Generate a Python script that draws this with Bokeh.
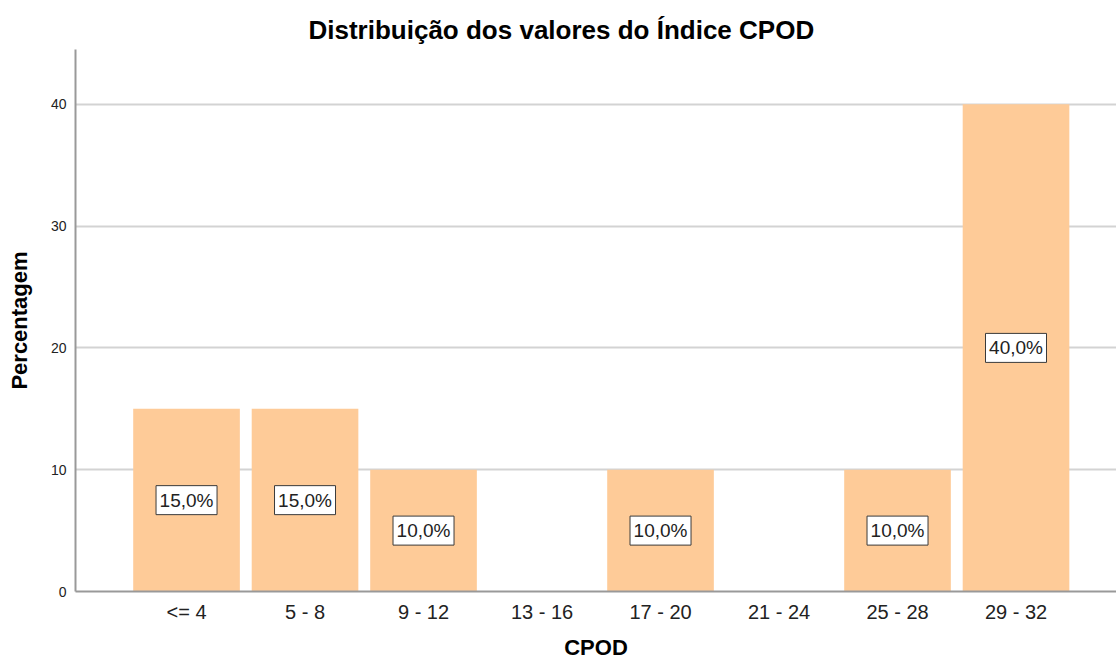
from bokeh.plotting import figure
from bokeh.models import Range1d, FixedTicker, ColumnDataSource
from bokeh.core.properties import value
from bokeh.embed import file_html
from bokeh.resources import INLINE

# ---- data ----
categories = ["<= 4", "5 - 8", "9 - 12", "13 - 16", "17 - 20", "21 - 24", "25 - 28", "29 - 32"]
percentages = [15.0, 15.0, 10.0, 0.0, 10.0, 0.0, 10.0, 40.0]
y_ticks = [0, 10, 20, 30, 40]

title_text = "Distribuição dos valores do Índice CPOD"
x_label = "CPOD"
y_label = "Percentagem"

FONT = "Liberation Sans"
BAR_COLOR = "#FECB98"

xs = list(range(len(categories)))
bar_src = ColumnDataSource(dict(x=xs, top=percentages))

lab_x = [i for i, v in enumerate(percentages) if v > 0]
lab_y = [v / 2 for v in percentages if v > 0]
lab_t = [f"{v:.1f}%".replace(".", ",") for v in percentages if v > 0]
lab_src = ColumnDataSource(dict(x=lab_x, y=lab_y, label=lab_t))

p = figure(width=1116, height=662, output_backend="svg", toolbar_location=None,
           x_range=Range1d(-0.937, 7.848), y_range=Range1d(0, 44.5),
           min_border_left=75, min_border_right=0, min_border_top=49, min_border_bottom=71)

p.outline_line_color = None
p.background_fill_color = "white"
p.border_fill_color = "white"

# title
p.title.text = title_text
p.title.align = "left"
p.title.offset = 233
p.title.text_font = FONT
p.title.text_font_size = "26px"
p.title.text_font_style = "bold"
p.title.text_color = "#000000"
p.title.standoff = 10

# bars
p.vbar(x="x", top="top", bottom=0, width=0.9, source=bar_src,
       fill_color=BAR_COLOR, line_color=None)

# labels
p.rect(x="x", y="y", width=61, height=29, width_units="screen", height_units="screen",
       fill_color="white", line_color="#3a3a3a", line_width=1, source=lab_src)
p.text(x="x", y="y", text="label", source=lab_src, text_align="center", text_baseline="middle",
       text_font=value(FONT), text_font_size="19px", text_color="#222222")

# grid
p.xgrid.visible = False
p.ygrid.ticker = FixedTicker(ticks=y_ticks)
p.ygrid.grid_line_color = "#D3D3D3"
p.ygrid.grid_line_width = 2

# x axis
p.xaxis.ticker = FixedTicker(ticks=xs)
p.xaxis.major_label_overrides = {i: c for i, c in enumerate(categories)}
p.xaxis.major_tick_line_color = None
p.xaxis.minor_tick_line_color = None
p.xaxis.major_tick_out = 0
p.xaxis.major_tick_in = 0
p.xaxis.major_label_standoff = 9
p.xaxis.major_label_text_font = FONT
p.xaxis.major_label_text_font_size = "20px"
p.xaxis.major_label_text_color = "#222222"
p.xaxis.axis_line_color = "#999999"
p.xaxis.axis_line_width = 2
p.xaxis.axis_label = x_label
p.xaxis.axis_label_text_font = FONT
p.xaxis.axis_label_text_font_size = "22px"
p.xaxis.axis_label_text_font_style = "bold"
p.xaxis.axis_label_text_color = "#000000"
p.xaxis.axis_label_standoff = 9

# y axis
p.yaxis.ticker = FixedTicker(ticks=y_ticks)
p.yaxis.major_tick_line_color = None
p.yaxis.minor_tick_line_color = None
p.yaxis.major_tick_out = 0
p.yaxis.major_tick_in = 0
p.yaxis.major_label_standoff = 9
p.yaxis.major_label_text_font = FONT
p.yaxis.major_label_text_font_size = "14px"
p.yaxis.major_label_text_color = "#222222"
p.yaxis.axis_line_color = "#999999"
p.yaxis.axis_line_width = 2
p.yaxis.axis_label = y_label
p.yaxis.axis_label_text_font = FONT
p.yaxis.axis_label_text_font_size = "22px"
p.yaxis.axis_label_text_font_style = "bold"
p.yaxis.axis_label_text_color = "#000000"
p.yaxis.axis_label_standoff = 16

open("out.html", "w").write(file_html(p, INLINE))
